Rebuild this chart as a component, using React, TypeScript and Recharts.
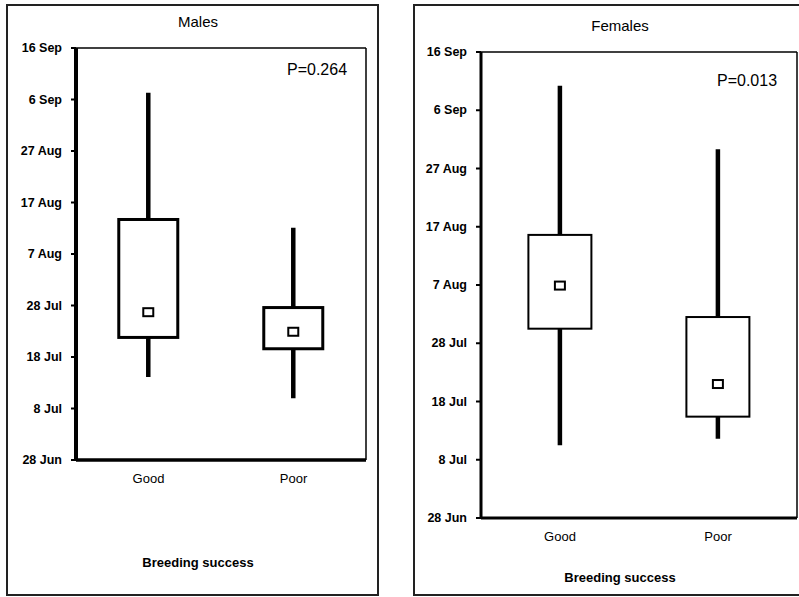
import React from 'react';
import { ComposedChart, Bar, XAxis, YAxis } from 'recharts';

// days after 28 Jun
const categories = ['Good', 'Poor'];
const dayTicks = [0, 10, 20, 30, 40, 50, 60, 70, 80];
const dayLabels = ['28 Jun', '8 Jul', '18 Jul', '28 Jul', '7 Aug', '17 Aug', '27 Aug', '6 Sep', '16 Sep'];

const malesMin = [16.1, 12.0];
const malesQ1 = [23.8, 21.6];
const malesMean = [28.7, 24.9];
const malesQ3 = [46.7, 29.6];
const malesMax = [71.3, 45.1];

const femalesMin = [12.5, 13.6];
const femalesQ1 = [32.5, 17.4];
const femalesMean = [39.9, 23.0];
const femalesQ3 = [48.6, 34.5];
const femalesMax = [74.2, 63.3];

const build = (mn: number[], q1: number[], mean: number[], q3: number[], mx: number[]) =>
  categories.map((cat, i) => ({
    cat,
    range: [mn[i], mx[i]],
    min: mn[i],
    q1: q1[i],
    mean: mean[i],
    q3: q3[i],
    max: mx[i],
  }));

const malesData = build(malesMin, malesQ1, malesMean, malesQ3, malesMax);
const femalesData = build(femalesMin, femalesQ1, femalesMean, femalesQ3, femalesMax);

const FONT = '"Liberation Sans", Arial, sans-serif';

// box drawn from the range bar geometry (y = max, y + height = min)
const makeBoxShape = (boxStroke: number) => (props: any) => {
  const { x, y, width, height, payload } = props;
  const { min, max, q1, q3, mean } = payload;
  const py = (v: number) => y + ((max - v) / (max - min)) * height;
  const cx = x + width / 2;
  return (
    <g>
      <line x1={cx} x2={cx} y1={y} y2={y + height} stroke="#000" strokeWidth={4.5} />
      <rect
        x={x}
        y={py(q3)}
        width={width}
        height={py(q1) - py(q3)}
        fill="#fff"
        stroke="#000"
        strokeWidth={boxStroke}
      />
      <rect x={cx - 5} y={py(mean) - 4} width={10} height={8} fill="#fff" stroke="#000" strokeWidth={2} />
    </g>
  );
};

const YTick = (props: any) => {
  const { x, y, payload } = props;
  const idx = dayTicks.indexOf(payload.value);
  return (
    <text x={x} y={y} dy={4} textAnchor="end" fontSize={12.5} fontWeight="bold" fontFamily={FONT} fill="#000">
      {dayLabels[idx]}
    </text>
  );
};

const XTick = (props: any) => {
  const { x, y, payload } = props;
  return (
    <text x={x} y={y} dy={10} textAnchor="middle" fontSize={13} fontFamily={FONT} fill="#000">
      {payload.value}
    </text>
  );
};

interface PanelProps {
  data: any[];
  width: number;
  margin: { top: number; right: number; left: number; bottom: number };
  yWidth: number;
  catHeight: number;
  yAxisStroke: number;
  xAxisStroke: number;
  boxStroke: number;
  barGap: string;
}

function Panel({ data, width, margin, yWidth, catHeight, yAxisStroke, xAxisStroke, boxStroke, barGap }: PanelProps) {
  return (
    <ComposedChart width={width} height={597} data={data} margin={margin} barCategoryGap={barGap}>
      {/* baseline with boundary ticks, kept next to the plot */}
      <XAxis
        xAxisId="a_frame"
        type="number"
        domain={[0, 2]}
        ticks={[0, 1, 2]}
        height={1}
        tick={false}
        tickSize={5}
        tickLine={{ stroke: '#000', strokeWidth: 2 }}
        axisLine={{ stroke: '#000', strokeWidth: xAxisStroke }}
      />
      <XAxis
        xAxisId="b_cat"
        dataKey="cat"
        height={catHeight - 1}
        axisLine={false}
        tickLine={false}
        tick={<XTick />}
        tickMargin={6}
      />
      <XAxis
        xAxisId="c_top"
        orientation="top"
        type="number"
        domain={[0, 2]}
        height={1}
        tick={false}
        tickLine={false}
        axisLine={{ stroke: '#000', strokeWidth: 1.5 }}
      />
      <YAxis
        yAxisId="main"
        type="number"
        domain={[0, 80]}
        ticks={dayTicks}
        width={yWidth}
        interval={0}
        tick={<YTick />}
        tickSize={5}
        tickMargin={9}
        tickLine={{ stroke: '#000', strokeWidth: 2 }}
        axisLine={{ stroke: '#000', strokeWidth: yAxisStroke }}
      />
      <YAxis
        yAxisId="right"
        orientation="right"
        type="number"
        domain={[0, 80]}
        width={1}
        tick={false}
        tickLine={false}
        axisLine={{ stroke: '#000', strokeWidth: 1.5 }}
      />
      <Bar
        xAxisId="b_cat"
        yAxisId="main"
        dataKey="range"
        shape={makeBoxShape(boxStroke)}
        isAnimationActive={false}
      />
    </ComposedChart>
  );
}

const textStyle: React.CSSProperties = {
  position: 'absolute',
  fontFamily: FONT,
  color: '#000',
  whiteSpace: 'nowrap',
  lineHeight: 1,
};

export default function App() {
  return (
    <div style={{ position: 'absolute', left: 0, top: 0, width: 799, height: 597, overflow: 'hidden', background: '#fff' }}>
      {/* panel frames */}
      <div style={{ position: 'absolute', left: 6, top: 4, width: 369, height: 588, border: '2px solid #222' }} />
      <div style={{ position: 'absolute', left: 413, top: 4, width: 420, height: 588, border: '2px solid #222' }} />

      <div style={{ position: 'absolute', left: 0, top: 0 }}>
        <Panel
          data={malesData}
          width={379}
          margin={{ top: 47, right: 12, left: 0, bottom: 0 }}
          yWidth={76}
          catHeight={137}
          yAxisStroke={4}
          xAxisStroke={3.5}
          boxStroke={3}
          barGap="29.5%"
        />
      </div>
      <div style={{ position: 'absolute', left: 400, top: 0 }}>
        <Panel
          data={femalesData}
          width={399}
          margin={{ top: 51, right: 1, left: 0, bottom: 0 }}
          yWidth={81}
          catHeight={79}
          yAxisStroke={3}
          xAxisStroke={3}
          boxStroke={2}
          barGap="30%"
        />
      </div>

      <div style={{ ...textStyle, left: 98, width: 200, top: 14, fontSize: 15, textAlign: 'center' }}>Males</div>
      <div style={{ ...textStyle, left: 287, top: 62, fontSize: 16 }}>P=0.264</div>
      <div style={{ ...textStyle, left: 98, width: 200, top: 556, fontSize: 13, fontWeight: 'bold', textAlign: 'center' }}>
        Breeding success
      </div>

      <div style={{ ...textStyle, left: 520, width: 200, top: 18, fontSize: 15, textAlign: 'center' }}>Females</div>
      <div style={{ ...textStyle, left: 717, top: 73, fontSize: 16 }}>P=0.013</div>
      <div style={{ ...textStyle, left: 520, width: 200, top: 571, fontSize: 13, fontWeight: 'bold', textAlign: 'center' }}>
        Breeding success
      </div>
    </div>
  );
}
